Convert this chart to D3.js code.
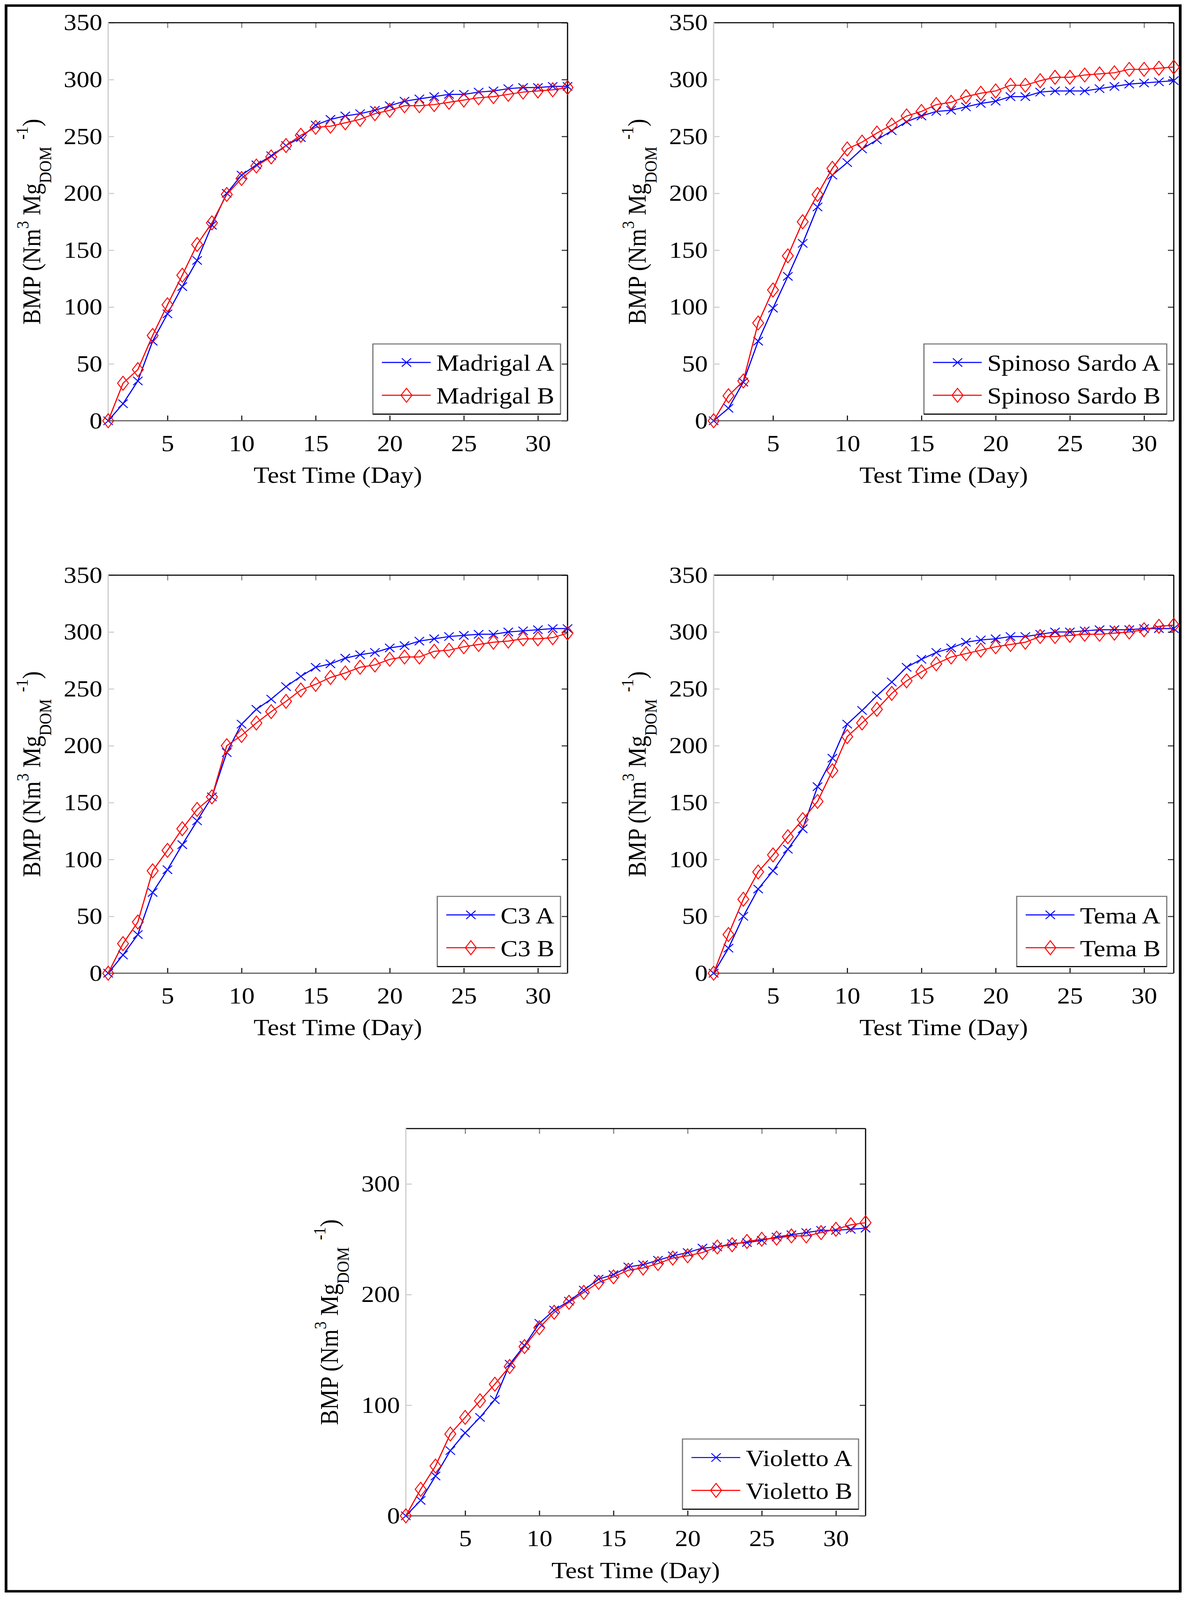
<!DOCTYPE html>
<html>
<head>
<meta charset="utf-8">
<script src="https://cdn.jsdelivr.net/npm/d3@7"></script>
<style>
  html, body { margin: 0; padding: 0; background: #fff; overflow: hidden; }
  svg { display: block; }
</style>
</head>
<body>
<script>
// test days and tick values
const days = d3.range(1, 33);
const xTickValues = [5, 10, 15, 20, 25, 30];
const yTicksFine = [0, 50, 100, 150, 200, 250, 300, 350];
const yTicksCoarse = [0, 100, 200, 300];

// BMP values (Nm3 Mg_DOM^-1), day 1..32
const madrigalA = [0, 15, 35, 70, 94, 118, 141, 172, 200, 216, 225, 233, 242, 249, 260, 265,
    268, 270, 273, 277, 281, 283, 285, 287, 287, 289, 290, 292, 293, 293, 294, 294];
const madrigalB = [0, 33, 45, 75, 102, 128, 155, 174, 199, 213, 224, 232, 242, 251, 258, 259,
    262, 265, 270, 273, 277, 277, 278, 280, 282, 284, 285, 287, 289, 290, 291, 293];
const spinosoA = [0, 11, 34, 70, 99, 127, 156, 188, 216, 227, 239, 247, 255, 263, 268, 272,
    273, 276, 279, 281, 285, 285, 289, 290, 290, 290, 292, 294, 296, 297, 298, 299];
const spinosoB = [0, 22, 35, 86, 115, 145, 175, 199, 222, 239, 245, 253, 260, 268, 272, 278,
    280, 285, 288, 290, 295, 295, 299, 302, 302, 304, 305, 306, 309, 309, 310, 311];
const c3A = [0, 16, 34, 71, 91, 113, 134, 155, 194, 219, 232, 241, 252, 261, 269, 272,
    277, 280, 282, 286, 288, 292, 294, 296, 297, 298, 298, 300, 301, 302, 303, 303];
const c3B = [0, 26, 45, 90, 108, 127, 144, 155, 200, 209, 220, 230, 239, 249, 254, 260,
    264, 269, 271, 276, 278, 278, 283, 284, 287, 289, 291, 292, 294, 294, 295, 299];
const temaA = [0, 22, 50, 74, 90, 109, 127, 164, 189, 219, 231, 244, 256, 269, 276, 282,
    286, 291, 293, 294, 296, 296, 298, 300, 300, 301, 302, 302, 302, 303, 303, 303];
const temaB = [0, 34, 65, 89, 104, 120, 135, 151, 178, 208, 220, 232, 246, 257, 265, 272,
    278, 281, 284, 287, 289, 291, 296, 296, 297, 298, 298, 299, 300, 302, 305, 306];
const violettoA = [0, 14, 36, 59, 75, 89, 105, 137, 154, 174, 186, 194, 204, 214, 218, 225,
    227, 231, 235, 238, 242, 243, 246, 247, 249, 252, 254, 256, 258, 258, 259, 260];
const violettoB = [0, 24, 45, 74, 89, 104, 119, 135, 153, 170, 184, 193, 202, 211, 216, 222,
    224, 228, 233, 235, 238, 243, 245, 248, 250, 251, 253, 253, 256, 259, 263, 265];

const legendLabels = [
    ["Madrigal A", "Madrigal B"],
    ["Spinoso Sardo A", "Spinoso Sardo B"],
    ["C3 A", "C3 B"],
    ["Tema A", "Tema B"],
    ["Violetto A", "Violetto B"]
];
const panelSeries = [
    [madrigalA, madrigalB],
    [spinosoA, spinosoB],
    [c3A, c3B],
    [temaA, temaB],
    [violettoA, violettoB]
];

// plot-box positions on the page
const boxes = [
    {x0: 277, x1: 1453, y0: 65, y1: 1205, yTicks: yTicksFine},
    {x0: 1827, x1: 3005, y0: 65, y1: 1205, yTicks: yTicksFine},
    {x0: 277, x1: 1453, y0: 1647, y1: 2787, yTicks: yTicksFine},
    {x0: 1827, x1: 3005, y0: 1647, y1: 2787, yTicks: yTicksFine},
    {x0: 1039, x1: 2216, y0: 3232, y1: 4341, yTicks: yTicksCoarse}
];

const W = 3044, H = 4582;
const FONT = "'Liberation Serif', 'Times New Roman', Times, serif";
const FS = 66;
const SMALL = 45;
const colors = ["#0000ff", "#ff0000"];
const markerPaths = [
    "M-12,-12L12,12M-12,12L12,-12",
    "M0,-20L14,0L0,20L-14,0Z"
];

// the drawing is laid out on a 3044x4582 grid and stretched to the window
const svg = d3.select("body").append("svg")
    .attr("width", window.innerWidth || W)
    .attr("height", window.innerHeight || H)
    .attr("viewBox", "0 0 " + W + " " + H)
    .attr("preserveAspectRatio", "none");

svg.append("rect")
    .attr("x", 0).attr("y", 0)
    .attr("width", W).attr("height", H)
    .attr("fill", "#fff");

// outer frame
svg.append("rect")
    .attr("x", 15.5).attr("y", 16)
    .attr("width", 3006).attr("height", 4541)
    .attr("fill", "none")
    .attr("stroke", "#000")
    .attr("stroke-width", 7);

function styleAxis(sel, tickColor) {
    sel.select(".domain").remove();
    sel.selectAll(".tick line")
        .attr("stroke", tickColor)
        .attr("stroke-width", 3);
    sel.selectAll(".tick text")
        .attr("fill", "#000")
        .attr("font-family", FONT)
        .attr("font-size", FS);
}

function drawPanel(i) {
    const b = boxes[i];
    const x = d3.scaleLinear().domain([1, 32]).range([b.x0, b.x1]);
    const y = d3.scaleLinear().domain([0, 350]).range([b.y1, b.y0]);
    const g = svg.append("g");

    // axes, ticks pointing inward on all four sides
    g.append("g")
        .attr("transform", "translate(0," + b.y1 + ")")
        .call(d3.axisBottom(x).tickValues(xTickValues).tickSizeInner(-15).tickSizeOuter(0).tickPadding(40))
        .call(s => styleAxis(s, "#222"));
    g.append("g")
        .attr("transform", "translate(0," + b.y0 + ")")
        .call(d3.axisTop(x).tickValues(xTickValues).tickSizeInner(-15).tickSizeOuter(0).tickFormat(() => ""))
        .call(s => styleAxis(s, "#888"));
    g.append("g")
        .attr("transform", "translate(" + b.x0 + ",0)")
        .call(d3.axisLeft(y).tickValues(b.yTicks).tickSizeInner(-15).tickSizeOuter(0).tickPadding(15))
        .call(s => styleAxis(s, "#ccc"));
    g.append("g")
        .attr("transform", "translate(" + b.x1 + ",0)")
        .call(d3.axisRight(y).tickValues(b.yTicks).tickSizeInner(-15).tickSizeOuter(0).tickFormat(() => ""))
        .call(s => styleAxis(s, "#333"));

    // box edges
    g.append("line").attr("x1", b.x0).attr("x2", b.x1).attr("y1", b.y0).attr("y2", b.y0)
        .attr("stroke", "#000").attr("stroke-width", 3);
    g.append("line").attr("x1", b.x1).attr("x2", b.x1).attr("y1", b.y0).attr("y2", b.y1)
        .attr("stroke", "#000").attr("stroke-width", 3);
    g.append("line").attr("x1", b.x0).attr("x2", b.x1).attr("y1", b.y1).attr("y2", b.y1)
        .attr("stroke", "#555").attr("stroke-width", 3);
    g.append("line").attr("x1", b.x0).attr("x2", b.x0).attr("y1", b.y0).attr("y2", b.y1)
        .attr("stroke", "#d6d6d6").attr("stroke-width", 4);

    // series
    const line = d3.line()
        .x((d, j) => x(days[j]))
        .y(d => y(d));
    panelSeries[i].forEach((vals, k) => {
        g.append("path")
            .datum(vals)
            .attr("d", line)
            .attr("fill", "none")
            .attr("stroke", colors[k])
            .attr("stroke-width", 3);
        g.selectAll(".m" + k)
            .data(vals)
            .enter()
            .append("path")
            .attr("class", "m" + k)
            .attr("transform", (d, j) => "translate(" + x(days[j]) + "," + y(d) + ")")
            .attr("d", markerPaths[k])
            .attr("fill", "none")
            .attr("stroke", colors[k])
            .attr("stroke-width", 2.5);
    });

    // x label
    g.append("text")
        .attr("x", (b.x0 + b.x1) / 2)
        .attr("y", b.y1 + 178)
        .attr("text-anchor", "middle")
        .attr("font-family", FONT)
        .attr("font-size", FS)
        .text("Test Time (Day)");

    // y label with super/subscripts
    const yl = g.append("text")
        .attr("transform", "translate(" + (b.x0 - 174) + "," + ((b.y0 + b.y1) / 2) + ") rotate(-90)")
        .attr("text-anchor", "middle")
        .attr("font-family", FONT)
        .attr("font-size", FS);
    yl.append("tspan").text("BMP (Nm");
    yl.append("tspan").attr("dy", -30).attr("font-size", SMALL).text("3");
    yl.append("tspan").attr("dy", 30).text(" Mg");
    yl.append("tspan").attr("dy", 28).attr("font-size", SMALL).text("DOM");
    yl.append("tspan").attr("dy", -60).attr("dx", 20).attr("font-size", SMALL).text("-1");
    yl.append("tspan").attr("dy", 32).text(")");

    // legend
    const lg = g.append("g");
    const frame = lg.append("rect");
    const texts = legendLabels[i].map((lab, k) => {
        return lg.append("text")
            .attr("x", 162)
            .attr("y", 53 + k * 94 + 24)
            .attr("font-family", FONT)
            .attr("font-size", FS)
            .text(lab);
    });
    const tw = d3.max(texts, t => t.node().getComputedTextLength());
    const w = 162 + tw + 16;
    const h = 201;
    legendLabels[i].forEach((lab, k) => {
        const cy = 53 + k * 94;
        lg.append("line")
            .attr("x1", 23).attr("x2", 148)
            .attr("y1", cy).attr("y2", cy)
            .attr("stroke", colors[k])
            .attr("stroke-width", 3);
        lg.append("path")
            .attr("transform", "translate(86," + cy + ")")
            .attr("d", markerPaths[k])
            .attr("fill", "none")
            .attr("stroke", colors[k])
            .attr("stroke-width", 2.5);
    });
    frame.attr("x", 0).attr("y", 0).attr("width", w).attr("height", h)
        .attr("fill", "#fff")
        .attr("stroke", "#777")
        .attr("stroke-width", 3);
    lg.append("line").attr("x1", 0).attr("x2", w).attr("y1", h).attr("y2", h)
        .attr("stroke", "#000").attr("stroke-width", 3);
    lg.attr("transform", "translate(" + (b.x1 - 18 - w) + "," + (b.y1 - 19 - h) + ")");
}

boxes.forEach((b, i) => drawPanel(i));
</script>
</body>
</html>
